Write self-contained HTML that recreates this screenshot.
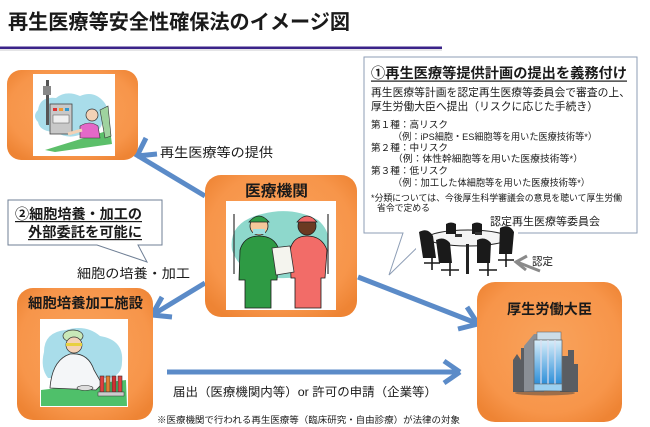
<!DOCTYPE html>
<html><head><meta charset="utf-8"><style>
html,body{margin:0;padding:0;background:#fff;}
svg{display:block;}
text{font-family:"Liberation Sans","Noto Sans CJK JP",sans-serif;fill:#1a1a1a;}
.b{font-weight:bold;}
</style></head><body>
<svg width="650" height="427" viewBox="0 0 650 427" xmlns="http://www.w3.org/2000/svg">
<defs>
<radialGradient id="og" cx="50%" cy="45%" r="65%">
<stop offset="0%" stop-color="#F9A35C"/>
<stop offset="75%" stop-color="#F7954A"/>
<stop offset="100%" stop-color="#EE8434"/>
</radialGradient>
<linearGradient id="glass" x1="0" y1="0" x2="0" y2="1">
<stop offset="0%" stop-color="#D8EEFA"/>
<stop offset="100%" stop-color="#2E8FD8"/>
</linearGradient>
</defs>

<!-- Title -->
<text x="8" y="29" class="b" font-size="20.5" textLength="342" lengthAdjust="spacingAndGlyphs">再生医療等安全性確保法のイメージ図</text>
<rect x="0" y="46.5" width="442" height="2.5" fill="#3A2389"/>
<rect x="0" y="49.5" width="442" height="1" fill="#C8C8CC"/>

<!-- Info box -->
<path d="M364 57 H637 V233 H432 L389 275 L403 233 H364 Z" fill="#fff" stroke="#8E9EB6" stroke-width="1"/>
<text x="371" y="78" class="b" font-size="14" textLength="256" lengthAdjust="spacingAndGlyphs">①再生医療等提供計画の提出を義務付け</text>
<rect x="371" y="80.5" width="256" height="1.2" fill="#1a1a1a"/>
<text x="371" y="96" font-size="11" textLength="259" lengthAdjust="spacingAndGlyphs">再生医療等計画を認定再生医療等委員会で審査の上、</text>
<text x="371" y="110" font-size="11" textLength="227" lengthAdjust="spacingAndGlyphs">厚生労働大臣へ提出（リスクに応じた手続き）</text>
<text x="371" y="128" font-size="9.5" textLength="77" lengthAdjust="spacingAndGlyphs">第１種：高リスク</text>
<text x="393" y="140" font-size="9.5" textLength="204" lengthAdjust="spacingAndGlyphs">（例：iPS細胞・ES細胞等を用いた医療技術等*）</text>
<text x="371" y="151" font-size="9.5" textLength="77" lengthAdjust="spacingAndGlyphs">第２種：中リスク</text>
<text x="393" y="162" font-size="9.5" textLength="190" lengthAdjust="spacingAndGlyphs">（例：体性幹細胞等を用いた医療技術等*）</text>
<text x="371" y="174" font-size="9.5" textLength="77" lengthAdjust="spacingAndGlyphs">第３種：低リスク</text>
<text x="393" y="186" font-size="9.5" textLength="197" lengthAdjust="spacingAndGlyphs">（例：加工した体細胞等を用いた医療技術等*）</text>
<text x="371" y="201" font-size="9" textLength="251" lengthAdjust="spacingAndGlyphs">*分類については、今後厚生科学審議会の意見を聴いて厚生労働</text>
<text x="377" y="211" font-size="9" textLength="53" lengthAdjust="spacingAndGlyphs">省令で定める</text>
<text x="490" y="225" font-size="11" textLength="110" lengthAdjust="spacingAndGlyphs">認定再生医療等委員会</text>

<!-- Conference table -->
<g>
<rect x="416" y="227" width="102" height="52" fill="#fff"/>
<ellipse cx="468" cy="238" rx="40" ry="8" fill="#f4f4f4" stroke="#222" stroke-width="1"/>
<rect x="466" y="244" width="3" height="30" fill="#222"/>
<path d="M446 224 q5 -3 10 0 l0 10 h-10 z" fill="#1a1a1a"/>
<path d="M472 224 q5 -3 10 0 l0 10 h-10 z" fill="#1a1a1a"/>
<path d="M419 232 q9 -5 14 4 l3 22 h-13 z" fill="#1a1a1a"/>
<path d="M500 228 q9 -5 14 4 l-2 22 h-13 z" fill="#1a1a1a"/>
<path d="M436 240 q8 -4 14 3 l2 20 h-13 z" fill="#1a1a1a"/>
<path d="M477 240 q8 -4 14 3 l-1 20 h-13 z" fill="#1a1a1a"/>
<path d="M424 263 h16 M432 257 v13 M441 270 h18 M450 262 v14 M479 270 h18 M488 262 v14 M498 260 h16 M506 254 v13" stroke="#1a1a1a" stroke-width="1.6"/>
<rect x="455" y="234" width="7" height="3" fill="#333"/>
<rect x="475" y="232" width="7" height="3" fill="#333"/>
</g>

<!-- gray arrow 認定 -->
<path d="M540 271 L517 262" stroke="#8A8A8A" stroke-width="3" fill="none"/>
<path d="M527 256 L516 262 L526 270" stroke="#8A8A8A" stroke-width="3" fill="none" stroke-linejoin="miter"/>
<text x="532" y="265" font-size="11" textLength="21" lengthAdjust="spacingAndGlyphs">認定</text>

<!-- Callout 2 -->
<path d="M8 200 H162 V245 H138 L147 262 L97 245 H8 Z" fill="#fff" stroke="#6F7F95" stroke-width="1"/>
<text x="15" y="219" class="b" font-size="14" textLength="127" lengthAdjust="spacingAndGlyphs">②細胞培養・加工の</text>
<rect x="15" y="221" width="127" height="1.2" fill="#1a1a1a"/>
<text x="28" y="237" class="b" font-size="14" textLength="114" lengthAdjust="spacingAndGlyphs">外部委託を可能に</text>
<rect x="28" y="239" width="114" height="1.2" fill="#1a1a1a"/>

<!-- Arrows -->
<g stroke="#5B8BC8" stroke-width="5" fill="none" stroke-linecap="butt">
<path d="M205 196 L135 154"/>
<path d="M137 156 L157 154 M137 156 L146 138" stroke-linejoin="miter"/>
<path d="M205 283 L154 314"/>
<path d="M152 315 L162 297 M152 315 L172 317"/>
<path d="M358 277 L476 323"/>
<path d="M478 324 L458 329 M478 324 L467 307"/>
<path d="M167 372 L458 372"/>
<path d="M460 372 L444 361 M460 372 L444 383"/>
</g>

<text x="160" y="157" font-size="13" textLength="113" lengthAdjust="spacingAndGlyphs">再生医療等の提供</text>
<text x="77" y="278" font-size="13" textLength="113" lengthAdjust="spacingAndGlyphs">細胞の培養・加工</text>
<text x="173" y="396" font-size="12" textLength="264" lengthAdjust="spacingAndGlyphs">届出（医療機関内等）or 許可の申請（企業等）</text>
<text x="157" y="423" font-size="9.2" textLength="303" lengthAdjust="spacingAndGlyphs">※医療機関で行われる再生医療等（臨床研究・自由診療）が法律の対象</text>

<!-- Box 1: patient -->
<rect x="7" y="70" width="131" height="90" rx="14" fill="url(#og)"/>
<rect x="33" y="74" width="82" height="82" fill="#fff"/>
<path d="M38 110 q2 -14 18 -12 q10 -8 24 -2 q14 -6 24 6 q8 10 -2 22 q-4 12 -20 10 q-14 6 -26 -2 q-16 0 -18 -10 q-6 -6 0 -12z" fill="#A9DDEA"/>
<rect x="46" y="80" width="3" height="45" fill="#555"/>
<rect x="43" y="86" width="8" height="9" fill="#888"/>
<rect x="50" y="104" width="22" height="30" fill="#C8C8C8" stroke="#444" stroke-width="0.8"/>
<rect x="53" y="108" width="4" height="3" fill="#D33"/><rect x="59" y="108" width="4" height="3" fill="#E93"/><rect x="65" y="108" width="4" height="3" fill="#39C"/>
<rect x="53" y="115" width="16" height="8" fill="#eee" stroke="#555" stroke-width="0.5"/>
<path d="M45 150 L110 130 L112 144 L55 152 Z" fill="#5CBF6A"/>
<circle cx="92" cy="115" r="6" fill="#F3D2B6" stroke="#333" stroke-width="0.7"/>
<path d="M80 126 q10 -6 18 0 l2 12 h-20 z" fill="#E468C8" stroke="#333" stroke-width="0.6"/>
<path d="M100 110 l8 -4 l3 30 l-6 2 z" fill="#9fd39f" stroke="#333" stroke-width="0.6"/>
<path d="M68 134 L82 130" stroke="#F3D2B6" stroke-width="3"/>

<!-- Box 2: medical institution -->
<rect x="205" y="175" width="152" height="142" rx="16" fill="url(#og)"/>
<text x="245" y="196" class="b" font-size="15.5" textLength="63" lengthAdjust="spacingAndGlyphs">医療機関</text>
<rect x="226" y="201" width="110" height="109" fill="#fff"/>
<path d="M232 250 q-4 -28 30 -36 q30 -8 56 6 q16 14 8 34 q-6 24 -40 24 q-44 2 -54 -28z" fill="#8ED8CC"/>
<path d="M234 214 v60 M328 214 v60" stroke="#333" stroke-width="1.2"/>
<!-- surgeon -->
<circle cx="259" cy="226" r="9" fill="#F5C89A" stroke="#222" stroke-width="0.8"/>
<path d="M249 222 q10 -12 20 0 z" fill="#2E9E48" stroke="#222" stroke-width="0.7"/>
<path d="M253 229 h12 v5 h-12 z" fill="#9FE0E0"/>
<path d="M240 250 q4 -14 19 -14 q16 0 20 14 l-2 30 l-6 0 l0 28 h-26 l0 -28 l-6 0 z" fill="#2E9A44" stroke="#1a1a1a" stroke-width="0.8"/>
<!-- nurse -->
<circle cx="307" cy="226" r="9" fill="#6B3A22" stroke="#222" stroke-width="0.8"/>
<path d="M297 222 q10 -12 20 0 z" fill="#F06A6A" stroke="#222" stroke-width="0.7"/>
<path d="M290 250 q3 -14 17 -14 q15 0 20 14 l-2 28 l-4 0 l0 30 h-26 l0 -30 l-4 0 z" fill="#F26C68" stroke="#1a1a1a" stroke-width="0.8"/>
<path d="M272 248 l18 -2 l4 26 l-18 3 z" fill="#F4F4EE" stroke="#333" stroke-width="0.8"/>

<!-- Box 3: cell processing facility -->
<rect x="17" y="288" width="136" height="132" rx="16" fill="url(#og)"/>
<text x="28" y="308" class="b" font-size="14.4" textLength="115" lengthAdjust="spacingAndGlyphs">細胞培養加工施設</text>
<rect x="40" y="319" width="88" height="88" fill="#fff"/>
<path d="M44 352 q0 -20 22 -22 q20 -6 34 6 q24 4 22 26 q0 14 -14 16 l-60 0 q-8 -10 -4 -26z" fill="#A9DDEA"/>
<path d="M41 390 L126 380 L127 406 L41 406 Z" fill="#4FC06A"/>
<ellipse cx="73" cy="336" rx="10" ry="6" fill="#C8E8B8" stroke="#333" stroke-width="0.7"/>
<circle cx="74" cy="345" r="8" fill="#F3D2B6" stroke="#333" stroke-width="0.7"/>
<rect x="66" y="343" width="16" height="3" fill="#E8D040"/>
<path d="M50 388 q2 -28 20 -34 q18 -2 24 16 l8 14 l-6 6 z" fill="#F4F6F8" stroke="#333" stroke-width="0.8"/>
<ellipse cx="85" cy="388" rx="8" ry="2.5" fill="#ddd" stroke="#333" stroke-width="0.6"/>
<g stroke="#333" stroke-width="0.6">
<rect x="100" y="376" width="4" height="16" fill="#E04040"/>
<rect x="106" y="376" width="4" height="16" fill="#E08030"/>
<rect x="112" y="376" width="4" height="16" fill="#D03030"/>
<rect x="118" y="376" width="4" height="16" fill="#E04040"/>
</g>
<rect x="98" y="392" width="26" height="4" fill="#ccc" stroke="#333" stroke-width="0.5"/>

<!-- Box 4: ministry -->
<rect x="477" y="282" width="145" height="140" rx="18" fill="url(#og)"/>
<text x="507" y="314" class="b" font-size="14.2" textLength="85" lengthAdjust="spacingAndGlyphs">厚生労働大臣</text>
<path d="M513 392 V360 l4 -6 l4 6 V348 h8 V392 Z" fill="#5A5D62"/>
<path d="M560 392 V356 h8 v-6 h6 v14 h4 V392 Z" fill="#5A5D62"/>
<path d="M524 346 l10 -12 h10 V392 h-20 Z" fill="#8A8F96"/>
<rect x="537" y="332" width="24" height="8" fill="#CCDDE8" stroke="#6a6a6a" stroke-width="0.6"/>
<rect x="534" y="340" width="28" height="44" fill="url(#glass)" stroke="#6a6a6a" stroke-width="0.8"/>
<path d="M541 340 v44 M548 340 v44 M555 340 v44" stroke="#DDE" stroke-width="1.2"/>
<rect x="534" y="384" width="28" height="7" fill="#9CD0F0" stroke="#6a6a6a" stroke-width="0.6"/>
<ellipse cx="545" cy="393" rx="30" ry="2.5" fill="#444" opacity="0.5"/>
</svg>
</body></html>
